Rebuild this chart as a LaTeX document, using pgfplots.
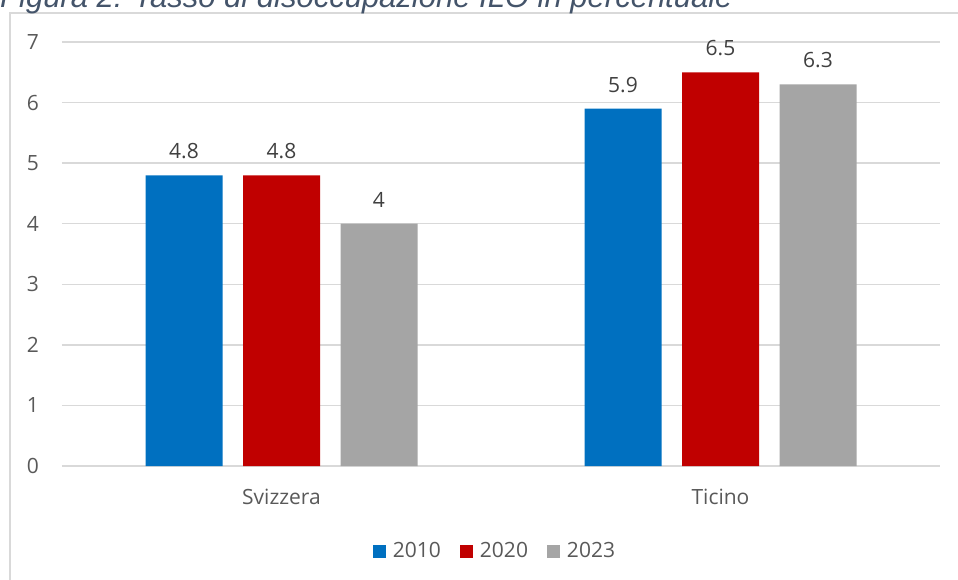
\documentclass[border=0pt]{standalone}
\usepackage{pgfplots}
\pgfplotsset{compat=1.18}
\usepackage{fontspec}
\setmainfont{Open Sans}
\newfontfamily\titlefont{Liberation Sans}
\definecolor{c2010}{HTML}{0070C0}
\definecolor{c2020}{HTML}{C00000}
\definecolor{c2023}{HTML}{A5A5A5}
\definecolor{gridc}{HTML}{D9D9D9}
\definecolor{txt}{HTML}{595959}
\definecolor{lbl}{HTML}{404040}
\definecolor{ttl}{HTML}{44546A}

\begin{document}
\begin{tikzpicture}
% origine = angolo in basso a sinistra dell'area del grafico (pixel 62,466)
\begin{axis}[
  scale only axis, width=878pt, height=424pt,
  xmin=-0.5, xmax=1.5, ymin=0, ymax=7,
  xtick={0,1}, xticklabels={Svizzera,Ticino},
  ytick={0,1,...,7},
  axis line style={draw=none}, major tick length=0pt,
  ymajorgrids, grid style={gridc, line width=1.3pt},
  /pgf/number format/assume math mode=true,
  tick label style={font=\fontsize{21}{25}\selectfont, text=txt},
  yticklabel style={anchor=east, inner sep=0pt, xshift=-23pt},
  xticklabel style={anchor=north, inner sep=0pt, yshift=-23pt},
  ybar=20.5pt, bar width=77pt,
  clip=false,
  nodes near coords,
  every node near coord/.append style={font=\fontsize{21}{25}\selectfont,
    text=lbl, anchor=south, inner sep=0pt, yshift=16pt},
  legend columns=3,
  legend style={at={(0.492,-0.2005)}, anchor=center, draw=none,
    font=\fontsize{21}{25}\selectfont, text=txt,
    nodes={inner sep=0pt},
    /tikz/every odd column/.append style={column sep=7pt},
    /tikz/every even column/.append style={column sep=19pt}},
  legend image code/.code={\fill[#1] (0pt,-6.5pt) rectangle (13pt,6.5pt);},
]
\addplot[fill=c2010, draw=none] coordinates {(0,4.8) (1,5.9)};
\addplot[fill=c2020, draw=none] coordinates {(0,4.8) (1,6.5)};
\addplot[fill=c2023, draw=none] coordinates {(0,4) (1,6.3)};
\legend{2010,2020,2023}
\end{axis}
% cornice del grafico (tagliata a destra e in basso)
\draw[gridc, line width=1.3pt] (-52pt,-130pt) -- (-52pt,453pt) -- (910pt,453pt);
\node[anchor=base west, inner sep=0, text=ttl,
  font=\titlefont\itshape\fontsize{31}{36}\selectfont] at (-62pt,458pt)
  {Figura 2: Tasso di disoccupazione ILO in percentuale};
\pgfresetboundingbox
\useasboundingbox (-62pt,-113pt) rectangle (896pt,466pt);
\end{tikzpicture}
\end{document}
